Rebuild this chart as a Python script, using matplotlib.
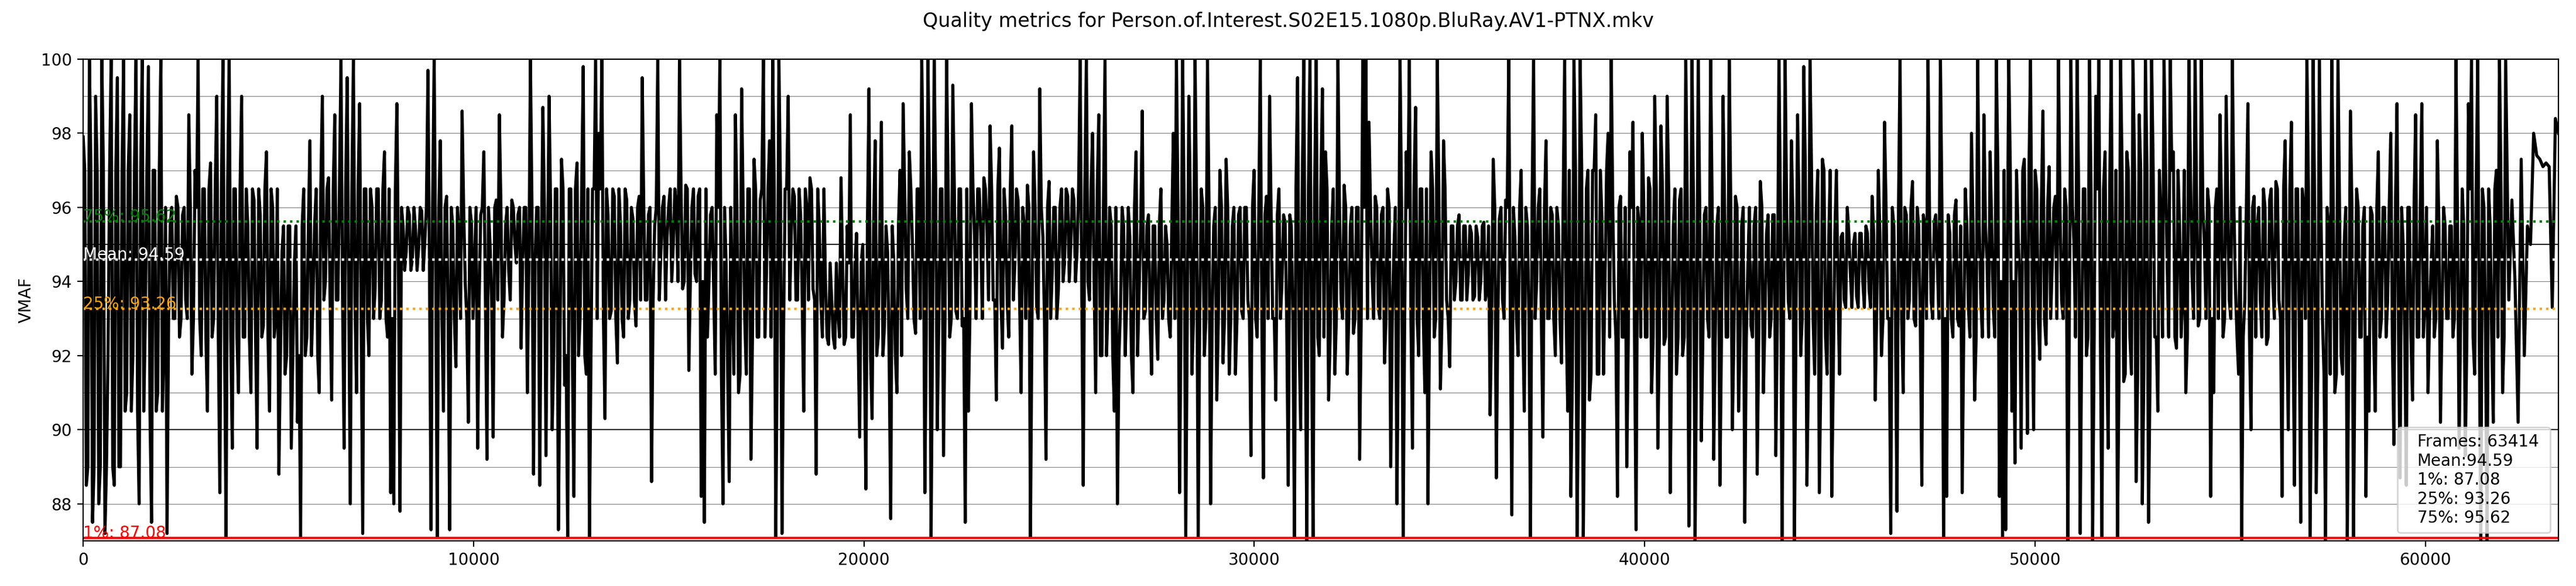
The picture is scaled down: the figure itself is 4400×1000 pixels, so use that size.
import numpy as np
import matplotlib
matplotlib.use("Agg")
import matplotlib.pyplot as plt

title = "Quality metrics for Person.of.Interest.S02E15.1080p.BluRay.AV1-PTNX.mkv"
frames = 63414
mean = 94.59
perc_1 = 87.08
perc_25 = 93.26
perc_75 = 95.62

vmaf = [
    # 0 - 8k
    97.9, 88.5, 100, 87.5, 99, 88, 100, 87.2, 92, 100, 88.5, 99.5, 89,
    100, 91, 98.5, 92, 100, 88, 100, 93, 99.8, 87.5, 97, 91, 100, 92.5,
    87.2, 95.5, 93, 96.3, 92.5, 95.8, 93.5,
    98.5, 91.5, 97, 100, 92, 96.5, 90.5, 97.2, 93, 99, 88.3,
    100, 87.1, 100, 89.5, 96.5, 91, 99, 92.5, 95.5,
    91, 96.2, 89.5, 95.8, 92.8, 97.5, 90.5, 96, 93, 88.8,
    94.8, 91.5, 95.5, 89.5, 94.5, 90.2,
    87.1, 96.5, 92.5, 97.8, 93.5, 96.5, 91, 99, 94, 96.8, 90.8, 98.5, 93.5,
    100, 89.5, 99.5, 88, 100, 91, 98.8, 87.2, 96.5, 92,
    96, 93.8, 96.5, 93.5, 97.5, 92.5, 88.3,
    # 8k - 16k
    88, 98.8, 87.8,
    95.5, 94.8, 95.8, 94.6, 95.4, 94.9, 95.9, 95.1,
    99.7, 87.3, 100, 87.1,
    97.8, 90.5, 96.3, 87.3,
    95.5, 91.7,
    95.3, 98.6, 94, 90.2, 95.6, 94.5,
    89.5, 95.8, 97.5, 89.2, 95, 89.8, 96.2, 98.5, 92.5,
    95.5, 94.3, 96.2, 95, 95.8, 92.2, 96, 91,
    100,
    88.8, 96, 88.5, 98.7, 89.3, 99, 90, 96.5, 87.3, 97.3,
    91.2, 87.1, 96.5,
    88.2, 97.2, 93, 99.8, 91.5, 87.1,
    96.5, 100, 98, 100,
    90.3, 95.8, 93.2, 96.3, 91.8, 95.5, 92.5, 96.2, 93.5, 95.7, 92.8, 96.3,
    99.5, 93.5, 95.8, 88.6, 95.5, 100,
    94.8, 96.3, 95.2, 96.5, 95, 96,
    100,
    93.8, 96.6, 91.6, 96, 94.2, 96.3, 88.2,
    # 16k - 24k
    87.5, 92.5,
    95.8, 93.8, 98.5,
    100, 88, 94.5, 88.6, 93.8,
    98.5, 91, 99.2, 93,
    96.5, 89.2, 97.3, 92.5, 96.2,
    100, 94.2, 97.8,
    100, 87.1, 100, 87.2, 96.5,
    99, 95.3,
    96.3, 93.5, 95.8, 90.5, 96,
    96.8, 93.8, 88.8, 95.5,
    92.5, 94, 92.3, 93.5, 92.2, 93.2,
    96.8, 92.3, 95.5,
    98.5, 92.5, 95.3, 89.8, 95, 88.4,
    99.2, 90.3, 97.8, 92.5, 98.3,
    92.8, 94.8, 87.6, 94.5, 91, 97,
    98.8, 93.8, 97.5, 95, 92.6, 96.5,
    100, 88.3, 100, 87.1, 100, 90,
    96.5, 89.3, 100, 92.5,
    99.3, 93.2, 96.5, 92.8,
    87.5, 90.5, 98.8,
    95.2, 96.5, 95.3, 96.8, 95.4,
    98.2, 93.5, 90.8,
    97.6, 92.2, 95.8, 92.5, 98.2,
    # 24k - 32k
    94.5, 96.2, 91, 95.5,
    96.6, 87.1,
    97.5, 93.3, 99.2, 95.2,
    89.2,
    96.7, 94.2, 96, 93.8, 96.5, 94.5, 96.3, 95, 96.2, 94.8,
    100, 88.5,
    100, 93.5, 98, 91,
    98.5, 92, 100, 93.5, 95.5,
    90.5, 88, 93.3,
    95.5, 93.5, 95.2, 91, 97.5, 93.8, 98.6, 93.2, 95.8, 91.5, 95.5, 91.9,
    96.5, 93.5, 95, 92.5,
    98, 100,
    88.3, 100, 87.1, 99, 91.5, 100, 87.1, 96.5, 92, 100, 88,
    95.5, 90.8,
    97, 91.8, 97.3, 91.5,
    95.5, 91.5, 95.8, 93.2, 96,
    93.5, 89.3,
    97, 92.5, 100, 88.7,
    96.3, 99, 93, 90.8, 96.5, 94, 95.6,
    88.5, 95.5, 87.1, 99.5, 90,
    100, 87, 100, 87.1, 100,
    92, 99.2,
    # 32k - 40k
    97.5, 90.8, 95.5, 91.5,
    100, 93.5, 96.6, 91.5,
    95.5, 92.6, 96,
    89.2, 100, 100,
    98.3, 94.2, 96.3,
    93.3, 95.8, 91.8,
    96.5, 89, 94.8, 88,
    100, 87.1, 97.5, 100,
    89.5, 98.7, 92, 96.5,
    91, 88, 97.5,
    92.5, 100, 91.1,
    97.8, 93.5, 91.7,
    95.5, 94, 95.8, 93.5, 95.5, 94.2, 95.3, 93.6, 95.2, 94, 95.6, 93.8,
    90.4, 97.3, 88.7,
    95.7, 93.5, 96.2,
    100, 87.7,
    95.2, 92, 97, 90.5, 95.5,
    87.1, 100,
    94, 96.5, 89.8, 97.8, 93, 95.8, 92, 95.5,
    91.8, 100, 90.5, 88.2, 100, 87.1, 100, 87.1,
    96.5, 90.8, 97, 98.5, 91.5, 95.7, 94,
    98, 100,
    93.5, 88.2, 96.3, 92.5, 89, 97.5, 98.3,
    # 40k - 48k
    87.3, 95.5,
    98, 92.5, 96.8, 91, 99, 89.5,
    98.2, 92.3, 99, 88.3, 95.5, 91.5, 96.2, 92,
    100, 87.4, 100, 87, 100, 89.7,
    95.8, 93, 100, 89.2,
    95.5, 88.5, 99, 92.5, 100,
    90, 96.3, 90.5, 95.5, 87.5,
    94.5, 92.8, 95.5, 88.8, 96.7, 91, 95.3, 92.5, 95.8,
    89.3, 100, 87, 100,
    93.5, 97.8, 87, 98.5, 92, 99.8, 88.5, 100, 93,
    95.8, 88.3, 97.3, 92.5, 95, 88.2, 95.3,
    93.8, 95.2, 93.5, 96, 94.2, 95, 93.6, 95.3, 94, 95.5, 93.8,
    96.3, 90.8, 97, 92, 98.3,
    93, 87.2, 95.5, 87.8,
    100, 91, 95.8, 93.5, 96.7, 92.8, 95.5,
    88.5, 95.5, 100, 93.5, 95.6,
    94.5, 100, 87.1,
    # 48k - 56k
    88.2, 95.3, 92.5, 96.2, 92.8,
    88.3, 96.5,
    93.3, 98, 90.8,
    100,
    93.5, 98.5, 94.5, 97.5, 93.3,
    100, 88.2, 87.1, 87.3, 100,
    90.5, 89.1, 95.3, 89.5, 97.3, 89.9,
    100, 90,
    96.5, 91.9, 98.6, 92.3, 97.1, 94.5, 96.3,
    100, 93.5, 96.5, 87, 100, 95, 100, 87.2, 96.5,
    92, 100, 87, 99, 100, 87.1, 97.5, 89.5, 100, 93, 87.1,
    100, 91.3, 97.5,
    92.5, 100, 88.6, 98.5, 88,
    100, 87.5, 100, 92.5,
    90.5,
    95.5, 100, 94.5, 100, 97.5, 92.2,
    95.5, 93.5, 91,
    100, 94.2, 100, 92.8, 100, 95,
    96.5, 88.2,
    91, 96.5, 98.5, 92.5, 99, 93.5,
    100, 93.8, 91.5, 87,
    93.5, 98.8, 90, 96.3,
    # 56k - 63.4k
    95.5, 93.5, 96.5, 92.3, 96.2, 94, 96.7, 93.5,
    88.2, 97.8, 90, 98.3, 88.5,
    96.5, 87.5, 96,
    100, 87.1, 100, 88.3, 100, 93, 87, 95.5, 100, 91,
    100, 92, 95, 87, 98.6,
    87.1, 96.5, 92.5, 95.5, 88.2,
    90.5, 95.8, 90.5, 97.5, 93, 96, 93.5, 98, 89.6,
    98.8, 88.7, 95, 88.5, 96, 90.8, 98.5, 92.5, 98.8, 93.5, 91,
    94.5, 92.5, 97.8, 90.2, 96, 93, 95.5, 92.5,
    100, 89.5, 96.5, 89.3, 98.8, 100, 91.5, 100, 87,
    96, 87, 95.5, 90.2, 97, 100, 91, 100,
    93.5, 96.2, 94, 90.2, 97.3, 92, 95.5,
    95,
    98, 97.4, 97.3, 97.1, 97.2, 97.1,
    93.3, 98.4, 98,
]

# lower / upper edge of the solid black band, per 1000 frames
# (nan = flat stretch at the end, no band)
band_lo = [
    89, 90.5, 93, 92.5, 92.5, 92, 93.5, 93, 94.3, 93,
    93.5, 94.5, 92, 93, 93.5, 94, 91.5, 92.5, 93.5, 92.5,
    92, 93, 93, 93.5, 93, 94, 92, 93, 93, 93,
    93, 92.5, 93, 93, 93, 93.5, 93, 93, 91.5, 92.5,
    92.5, 92.5, 92.5, 93, 91.5, 93.3, 93, 93, 92.5, 94,
    93, 92.5, 91.5, 92.5, 93, 92.5, 93, 91.5, 92.5, 92.5,
    93, 92.5, np.nan, np.nan,
]
band_hi = [
    97, 97, 96, 96.5, 96.5, 95.5, 96.5, 96.5, 96, 96,
    96, 96, 96.5, 96.5, 96, 96.5, 96, 96.5, 96.5, 94.5,
    95.5, 96.5, 96.5, 96.5, 96, 96.5, 96, 95.5, 96, 96,
    95.8, 96.5, 96, 96, 96.5, 95.5, 96, 96, 97, 96,
    96.5, 96, 96, 95.8, 97, 95.3, 96, 95.8, 95.5, 97,
    96, 96.5, 97, 97, 96, 96, 96.5, 96, 96, 96,
    95.5, 96.5, np.nan, np.nan,
]

x = np.linspace(0, frames - 1, len(vmaf))
step = x[1] - x[0]

# between two peaks/dips the line crosses the band, alternately to its
# upper and lower edge
line_x, line_y = [], []
for i, (xi, v) in enumerate(zip(x, vmaf)):
    line_x.append(xi)
    line_y.append(v)
    k = int(xi // 1000)
    edge = band_hi[k] if i % 2 == 0 else band_lo[k]
    if not np.isnan(edge):
        line_x.append(xi + step / 2)
        line_y.append(edge)

plt.figure(figsize=(22, 5))
[plt.axhline(i, color='grey', linewidth=0.4) for i in range(0, 100)]
[plt.axhline(i, color='black', linewidth=0.6) for i in range(0, 100, 5)]
plt.plot(line_x, line_y, color='black', linewidth=1.9,
         label=f'Frames: {frames} \nMean:{mean}\n'
               f'1%: {perc_1} \n25%: {perc_25} \n75%: {perc_75}')

# percentile lines
plt.axhline(perc_1, color='red')
plt.text(0, perc_1, f'1%: {perc_1}', color='red')
plt.axhline(perc_25, color='orange', linestyle=':')
plt.text(0, perc_25, f'25%: {perc_25}', color='orange')
plt.axhline(mean, color='white', linestyle=':')
plt.text(0, mean, f'Mean: {mean}', color='white')
plt.axhline(perc_75, color='green', linestyle=':')
plt.text(0, perc_75, f'75%: {perc_75}', color='green')

plt.ylabel('VMAF')
plt.suptitle(title)
plt.legend(loc="lower right", markerscale=0, handlelength=0, fancybox=True)
plt.ylim(int(perc_1), 100)
plt.xlim(0, frames - 1)
plt.subplots_adjust(left=0.0323, right=0.9932, top=0.899, bottom=0.077)

plt.savefig('out.png', dpi=200)
